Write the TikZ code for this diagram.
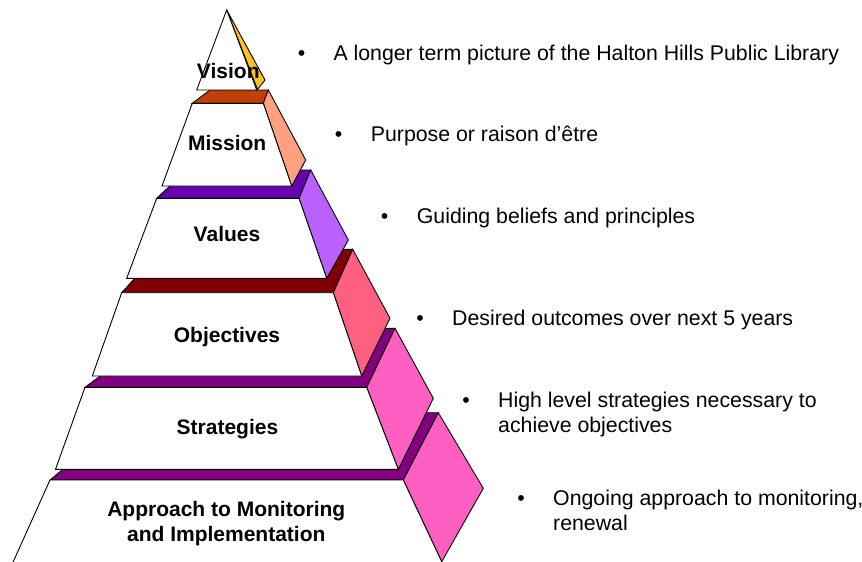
\documentclass[tikz,border=0pt]{standalone}
\usepackage{fontspec}
\setmainfont{Liberation Sans}
\definecolor{visionSide}{HTML}{FFC125}
\definecolor{missionTop}{HTML}{C04000}
\definecolor{missionSide}{HTML}{FFA080}
\definecolor{valuesTop}{HTML}{6600AE}
\definecolor{valuesSide}{HTML}{BA60FF}
\definecolor{objTop}{HTML}{800000}
\definecolor{objSide}{HTML}{FF6080}
\definecolor{stratTop}{HTML}{800080}
\definecolor{stratSide}{HTML}{FF5FC0}
\begin{document}
\begin{tikzpicture}[x=1pt,y=-1pt,
  face/.style={draw=black, line width=0.9pt, line join=miter},
  lbl/.style={font=\bfseries\fontsize{21}{25}\selectfont, align=center, inner sep=0pt, anchor=base},
  note/.style={font=\fontsize{21.3}{24.5}\selectfont, align=left, inner sep=0pt, anchor=base west},
  bullet/.style={font=\fontsize{21.3}{24.5}\selectfont, inner sep=0pt, anchor=base}]
\useasboundingbox (0,0) rectangle (862,562);
\begin{scope}
\clip (0,0) rectangle (862,562);
% Approach to Monitoring and Implementation (base tier)
\draw[face, fill=stratTop] (50,480) -- (403.3,480) -- (438.3,412.7) -- (132,412.7) -- cycle;
\draw[face, fill=stratSide] (403.3,480) -- (438.3,412.7) -- (483.3,488.3) -- (441.7,561.7) -- cycle;
\draw[face, fill=white] (50,480) -- (403.3,480) -- (450.3,580) -- (5,580) -- cycle;
% Strategies
\draw[face, fill=stratTop] (85,387.3) -- (366.7,387.3) -- (395,328.3) -- (165,328.3) -- cycle;
\draw[face, fill=stratSide] (366.7,387.3) -- (395,328.3) -- (433.3,398.3) -- (398.3,469.3) -- cycle;
\draw[face, fill=white] (85,387.3) -- (366.7,387.3) -- (398.3,469.3) -- (55.5,469.3) -- cycle;
% Objectives
\draw[face, fill=objTop] (121.7,292.7) -- (333.3,292.7) -- (352.7,249.3) -- (161,249.3) -- cycle;
\draw[face, fill=objSide] (333.3,292.7) -- (352.7,249.3) -- (390,318.3) -- (361.7,376) -- cycle;
\draw[face, fill=white] (121.7,292.7) -- (333.3,292.7) -- (361.7,376) -- (92.3,376) -- cycle;
% Values
\draw[face, fill=valuesTop] (156.7,198.3) -- (299,198.3) -- (310.7,170) -- (187,170) -- cycle;
\draw[face, fill=valuesSide] (299,198.3) -- (310.7,170) -- (348.3,240) -- (326.7,278.3) -- cycle;
\draw[face, fill=white] (156.7,198.3) -- (299,198.3) -- (326.7,278.3) -- (126.7,278.3) -- cycle;
% Mission
\draw[face, fill=missionTop] (192.3,103.3) -- (263.3,103.3) -- (268.3,90) -- (210,90) -- cycle;
\draw[face, fill=missionSide] (263.3,103.3) -- (268.3,90) -- (305.7,160) -- (291.7,186) -- cycle;
\draw[face, fill=white] (192.3,103.3) -- (263.3,103.3) -- (291.7,186) -- (162,186) -- cycle;
% Vision (apex)
\draw[face, fill=visionSide] (226.7,10) -- (265,80) -- (257.5,89.5) -- cycle;
\draw[face, fill=white] (226.7,10) -- (256.7,90) -- (196.7,90) -- cycle;
\end{scope}
% tier labels (two-line nodes are placed by the baseline of their last line)
\node[lbl] (vision) at (228.3,78.3) {Vision};
\node[lbl] (mission) at (227.2,150.7) {Mission};
\node[lbl] (values) at (227,241.7) {Values};
\node[lbl] (objectives) at (227,342.7) {Objectives};
\node[lbl] (strategies) at (227.5,434) {Strategies};
\node[lbl] (approach) at (226.3,541.7) {Approach to Monitoring\\and Implementation};
% descriptions
\node[bullet] (b1) at (301.7,60) {•};
\node[note] (d1) at (333.3,60) {A longer term picture of the Halton Hills Public Library};
\node[bullet] (b2) at (338.7,141.7) {•};
\node[note] (d2) at (370.7,141.7) {Purpose or raison d’être};
\node[bullet] (b3) at (384.7,223.3) {•};
\node[note] (d3) at (416.7,223.3) {Guiding beliefs and principles};
\node[bullet] (b4) at (420,325.5) {•};
\node[note] (d4) at (452,325.5) {Desired outcomes over next 5 years};
\node[bullet] (b5) at (466,407.5) {•};
\node[note] (d5) at (498,432) {High level strategies necessary to\\achieve objectives};
\node[bullet] (b6) at (521,505.5) {•};
\node[note] (d6) at (553,530) {Ongoing approach to monitoring,\\renewal};
\end{tikzpicture}
\end{document}
